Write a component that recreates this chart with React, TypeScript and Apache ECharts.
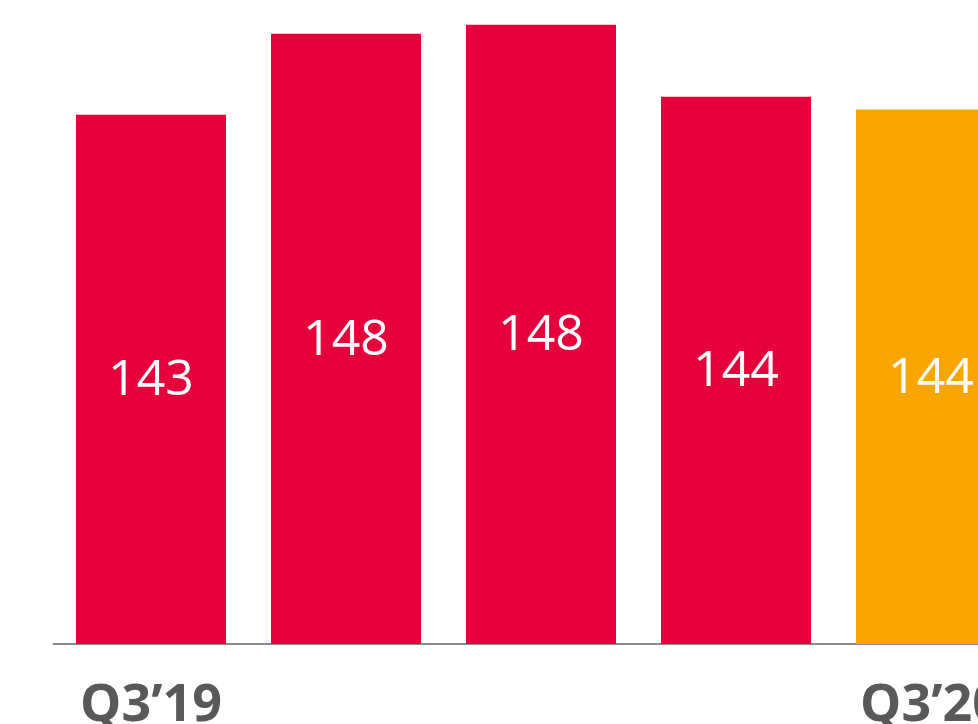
import React, { useEffect, useRef } from "react";
import * as echarts from "echarts";

const categories = ["Q3’19", "Q4’19", "Q1’20", "Q2’20", "Q3’20"];
const shownLabels = [0, 4];
const values = [143.4, 147.9, 148.4, 144.4, 143.7];
const barColors = ["#E5003B", "#E5003B", "#E5003B", "#E5003B", "#F8A500"];

export default function App() {
  const ref = useRef<HTMLDivElement>(null);
  useEffect(() => {
    if (!ref.current) return;
    const chart = echarts.init(ref.current, undefined, { renderer: "svg" });
    chart.setOption({
      animation: false,
      backgroundColor: "#ffffff",
      grid: {
        left: 53.5,
        right: -50.5,
        top: 14,
        bottom: 80,
        containLabel: false,
        outerBoundsMode: "none",
      },
      xAxis: {
        type: "category",
        data: categories,
        axisTick: { show: false },
        axisLine: { show: true, lineStyle: { color: "#8a8a8a", width: 2 } },
        axisLabel: {
          interval: (i: number) => shownLabels.includes(i),
          color: "#595959",
          fontFamily: "Open Sans",
          fontWeight: "bold",
          fontSize: 52,
          lineHeight: 52,
          margin: 30,
        },
      },
      yAxis: {
        type: "value",
        min: 114,
        max: 149,
        show: false,
        splitLine: { show: false },
      },
      series: [
        {
          type: "bar",
          barWidth: 150,
          data: values.map((v, i) => ({ value: v, itemStyle: { color: barColors[i] } })),
          label: {
            show: true,
            position: "inside",
            offset: [0, -3],
            color: "#ffffff",
            fontFamily: "Open Sans",
            fontSize: 50,
            formatter: (p: any) => String(Math.round(p.value)),
          },
        },
      ],
    });
    return () => chart.dispose();
  }, []);
  return (
    <div
      ref={ref}
      style={{ position: "fixed", left: 0, top: 0, width: 978, height: 724 }}
    />
  );
}
